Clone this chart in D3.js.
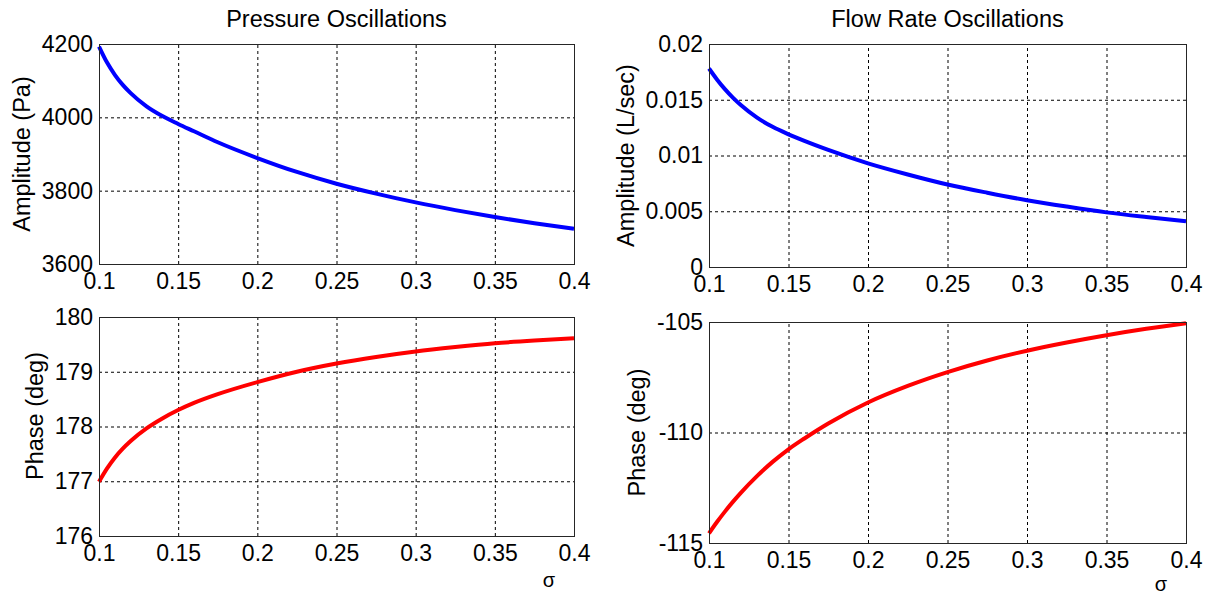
<!DOCTYPE html>
<html>
<head>
<meta charset="utf-8">
<script src="https://cdn.jsdelivr.net/npm/d3@7"></script>
<style>
  body { margin: 0; background: #fff; }
  svg { display: block; font-family: Arial, "Liberation Sans", Helvetica, sans-serif; }
</style>
</head>
<body>
<div id="chart"></div>
<script>
// sigma values
const sigma = [0.10, 0.105, 0.11, 0.115, 0.12, 0.13, 0.14, 0.15, 0.16, 0.175, 0.20, 0.225, 0.25, 0.275, 0.30, 0.325, 0.35, 0.375, 0.40];

// pressure amplitude (Pa)
const pressureAmp = [4193, 4150, 4116, 4088.5, 4066, 4030, 4003.5, 3982, 3962, 3932, 3889, 3851, 3819, 3792, 3768, 3747, 3728, 3711, 3696];
// flow rate amplitude (L/sec)
const flowAmp = [0.0178, 0.01682, 0.01595, 0.01519, 0.01452, 0.01342, 0.01257, 0.0119, 0.01131, 0.0105, 0.0093, 0.0083, 0.0074, 0.00666, 0.00599, 0.00542, 0.0049, 0.00448, 0.0041];
// pressure phase (deg)
const pressurePhase = [176.99, 177.23, 177.43, 177.595, 177.735, 177.965, 178.147, 178.30, 178.43, 178.59, 178.81, 179.00, 179.15, 179.27, 179.37, 179.45, 179.52, 179.57, 179.61];
// flow rate phase (deg)
const flowPhase = [-114.56, -114.05, -113.58, -113.14, -112.73, -111.985, -111.33, -110.76, -110.27, -109.59, -108.64, -107.89, -107.265, -106.74, -106.30, -105.93, -105.60, -105.31, -105.06];

const xTicks = [0.1, 0.15, 0.2, 0.25, 0.3, 0.35, 0.4];
const xTickLabels = ["0.1", "0.15", "0.2", "0.25", "0.3", "0.35", "0.4"];

const titles = ["Pressure Oscillations", "Flow Rate Oscillations"];

const width = 1208, height = 596;
const svg = d3.select("#chart").append("svg")
  .attr("width", width)
  .attr("height", height);

// 패널 설정 (위치는 그림에서 측정)
const panels = [
  { box: [99, 44, 574, 264], y: pressureAmp, dom: [3600, 4200], ticks: [3600, 3800, 4000, 4200],
    labels: ["3600", "3800", "4000", "4200"], color: "#0000ff", ylab: "Amplitude (Pa)", ylabX: 22, title: titles[0] },
  { box: [709, 44, 1186, 267], y: flowAmp, dom: [0, 0.02], ticks: [0, 0.005, 0.01, 0.015, 0.02],
    labels: ["0", "0.005", "0.01", "0.015", "0.02"], color: "#0000ff", ylab: "Amplitude (L/sec)", ylabX: 626, title: titles[1] },
  { box: [99, 317, 574, 536], y: pressurePhase, dom: [176, 180], ticks: [176, 177, 178, 179, 180],
    labels: ["176", "177", "178", "179", "180"], color: "#ff0000", ylab: "Phase (deg)", ylabX: 35, ylabY: 416, sig: 51 },
  { box: [709, 322, 1186, 543], y: flowPhase, dom: [-115, -105], ticks: [-115, -110, -105],
    labels: ["-115", "-110", "-105"], color: "#ff0000", ylab: "Phase (deg)", ylabX: 637, sig: 48 }
];

panels.forEach(p => {
  const [x0, y0, x1, y1] = p.box;
  const w = x1 - x0, h = y1 - y0;
  const x = d3.scaleLinear().domain([0.1, 0.4]).range([0, w]);
  const y = d3.scaleLinear().domain(p.dom).range([h, 0]);

  const g = svg.append("g").attr("transform", `translate(${x0},${y0})`);

  // 격자 + 눈금
  const gx = g.append("g")
    .attr("transform", `translate(0,${h})`)
    .call(d3.axisBottom(x).tickValues(xTicks).tickSize(-h).tickPadding(9)
      .tickFormat((d, i) => xTickLabels[i]));
  const gy = g.append("g")
    .call(d3.axisLeft(y).tickValues(p.ticks).tickSize(-w).tickPadding(6)
      .tickFormat((d, i) => p.labels[i]));

  [gx, gy].forEach(a => {
    a.select(".domain").remove();
    a.selectAll(".tick line")
      .attr("stroke", "#000")
      .attr("stroke-width", 1)
      .attr("stroke-dasharray", "3,3");
    a.selectAll(".tick text")
      .attr("fill", "#000")
      .style("font-size", "23px");
  });

  // 곡선
  const line = d3.line()
    .x((d, i) => x(sigma[i]))
    .y(d => y(d))
    .curve(d3.curveMonotoneX);
  g.append("path")
    .datum(p.y)
    .attr("fill", "none")
    .attr("stroke", p.color)
    .attr("stroke-width", 4)
    .attr("d", line);

  // 테두리
  g.append("rect")
    .attr("x", 0.5).attr("y", 0.5)
    .attr("width", w).attr("height", h)
    .attr("fill", "none")
    .attr("stroke", "#262626")
    .attr("stroke-width", 1);

  // y축 라벨
  const ly = p.ylabY !== undefined ? p.ylabY : y0 + h / 2;
  svg.append("text")
    .attr("transform", `translate(${p.ylabX},${ly}) rotate(-90)`)
    .attr("text-anchor", "middle")
    .attr("dy", "0.35em")
    .style("font-size", "23.5px")
    .text(p.ylab);

  if (p.title) {
    svg.append("text")
      .attr("x", x0 + w / 2)
      .attr("y", 27)
      .attr("text-anchor", "middle")
      .style("font-size", "23.5px")
      .text(p.title);
  }

  if (p.sig) {
    svg.append("text")
      .attr("x", x1 - 25)
      .attr("y", y1 + p.sig)
      .attr("text-anchor", "middle")
      .style("font-size", "20px")
      .text("σ");
  }
});
</script>
</body>
</html>
